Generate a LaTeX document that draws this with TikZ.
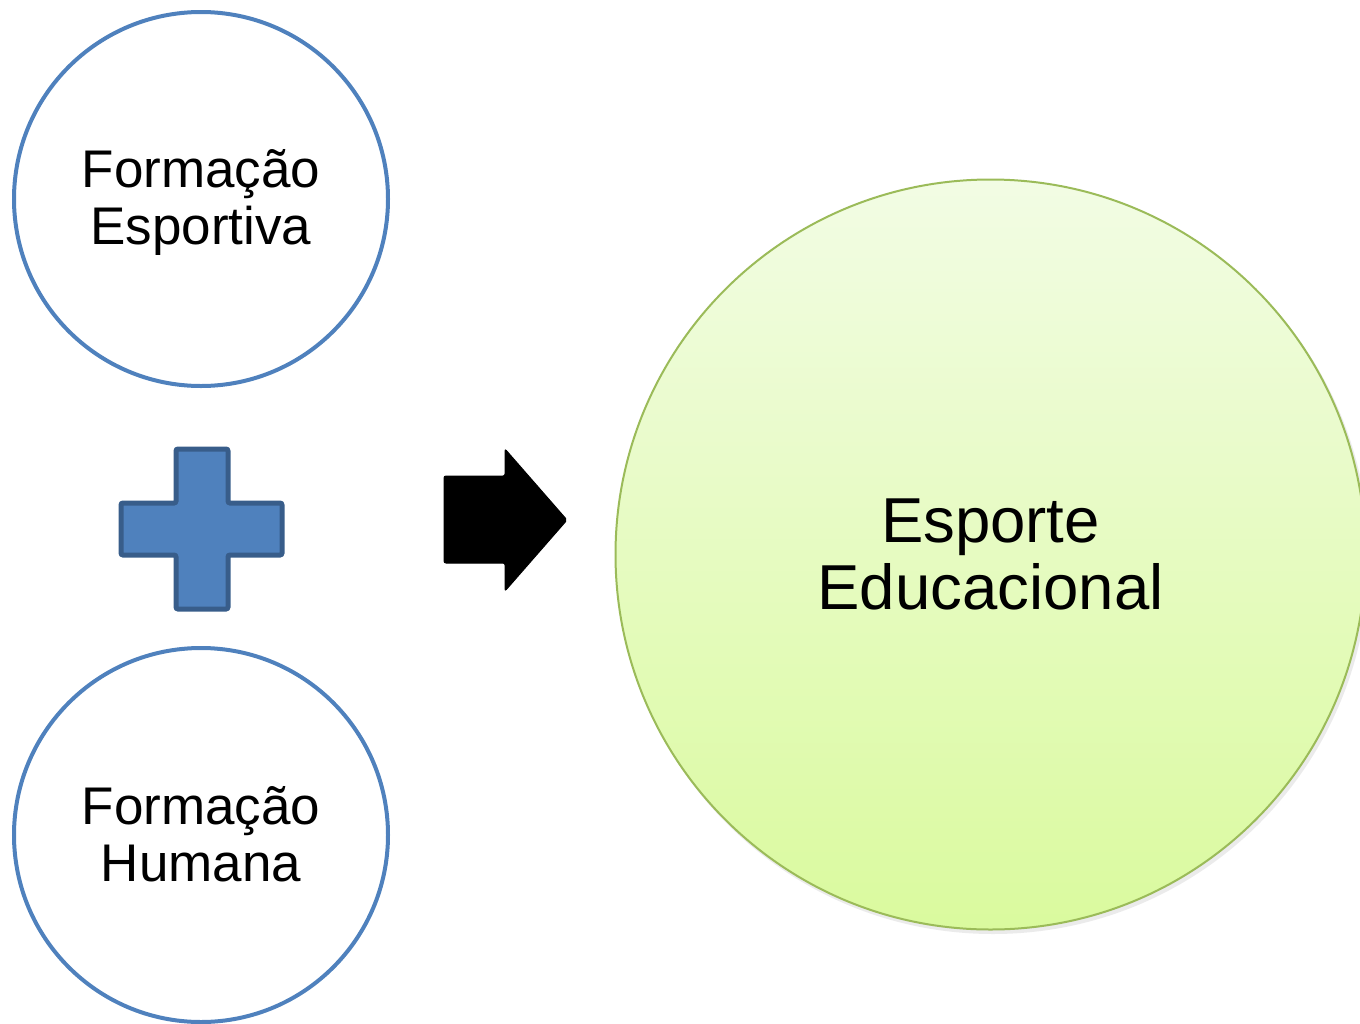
\documentclass[tikz,border=0pt]{standalone}
\usepackage{fontspec}
\setmainfont{Liberation Sans}
\definecolor{bluefill}{RGB}{79,129,189}
\definecolor{blueedge}{RGB}{56,93,138}
\definecolor{greenedge}{RGB}{155,187,89}
\definecolor{greentop}{RGB}{242,252,228}
\definecolor{greenbot}{RGB}{218,250,158}
\tikzset{
  smallcirc/.style={circle, draw=bluefill, line width=4pt, minimum size=374pt, inner sep=0pt},
  smalltext/.style={font=\fontsize{53pt}{57pt}\selectfont, align=center},
  bigcirc/.style={circle, draw=greenedge, line width=2pt, minimum size=750pt, inner sep=0pt,
    top color=greentop, bottom color=greenbot,
    font=\fontsize{63.5pt}{67pt}\selectfont, align=center},
  plusshape/.style={fill=bluefill, draw=blueedge, line width=5pt, rounded corners=2pt},
  arrowshape/.style={fill=black, draw=black, line width=1pt, rounded corners=2pt}
}
\begin{document}
\begin{tikzpicture}[x=1pt,y=-1pt]
\useasboundingbox (0,0) rectangle (1360,1023);
\clip (0,0) rectangle (1360,1023);
\fill[black!8] (993,558) circle (376);
\node[bigcirc] (big) at (990.5,554.5) {Esporte\\Educacional};
\node[smallcirc] (top) at (201,199) {};
\node[smalltext] (toplbl) at (201,202) {Formação\\Esportiva};
\node[smallcirc] (bot) at (201,835) {};
\node[smalltext] (botlbl) at (201,834) {Formação\\Humana};
\draw[plusshape] (176,449) -- (228,449) -- (228,503) -- (282,503) -- (282,555) -- (228,555)
  -- (228,609) -- (176,609) -- (176,555) -- (121,555) -- (121,503) -- (176,503) -- cycle;
\draw[arrowshape] (444,476) -- (505,476) -- (505,449) -- (567,520) -- (505,591) -- (505,563)
  -- (444,563) -- cycle;
\end{tikzpicture}
\end{document}
